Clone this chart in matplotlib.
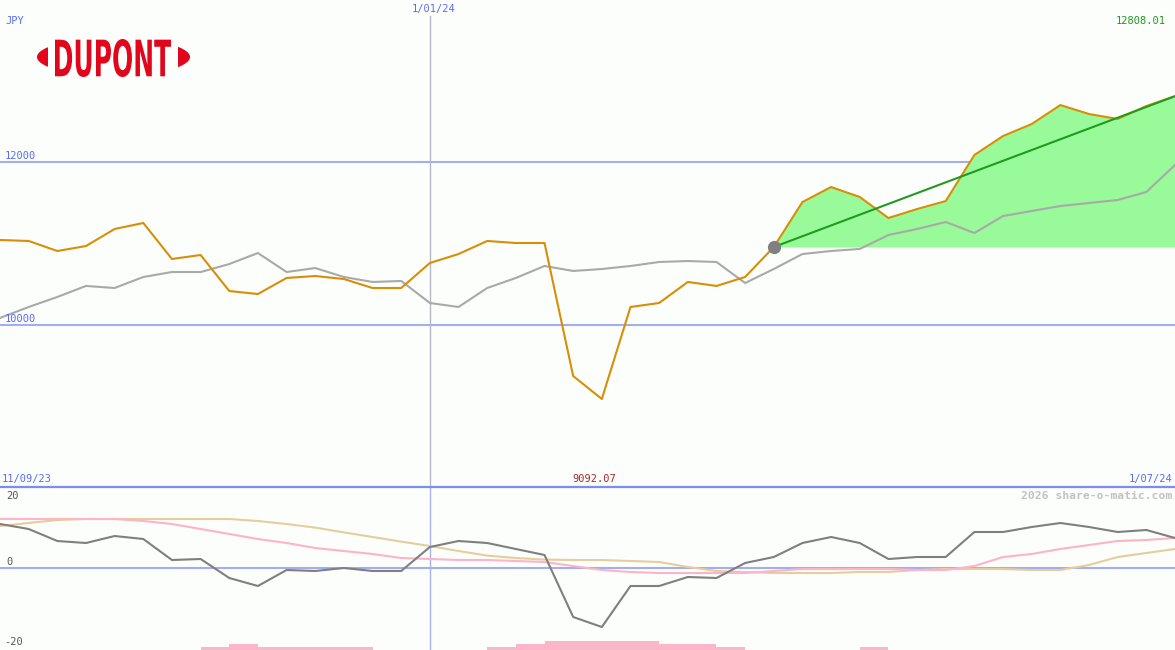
import matplotlib
matplotlib.use('Agg')
import matplotlib.pyplot as plt
from matplotlib.patches import Ellipse, Rectangle, PathPatch
from matplotlib.textpath import TextPath
from matplotlib.font_manager import FontProperties
from matplotlib.transforms import Affine2D
import numpy as np

# weekly closes, 11/09/23 .. 1/07/24 (JPY)
price = [11043, 11031, 10908, 10969, 11178, 11252, 10810, 10859, 10417, 10380,
         10577, 10601, 10564, 10454, 10454, 10761, 10871, 11031, 11006, 11006,
         9374, 9092.07, 10221, 10270, 10528, 10479, 10589, 10957, 11509, 11693,
         11571, 11313, 11423, 11521, 12086, 12319, 12466, 12699, 12589, 12528,
         12687, 12808.01]
# comparison line (grey)
bench = [10086, 10221, 10344, 10479, 10454, 10589, 10650, 10650, 10748, 10883,
         10650, 10699, 10589, 10528, 10540, 10270, 10221, 10454, 10577, 10724,
         10663, 10687, 10724, 10773, 10785, 10773, 10515, 10687, 10871, 10908,
         10933, 11104, 11178, 11264, 11129, 11337, 11399, 11460, 11497, 11534,
         11632, 11963]
# lower panel indicators
mom = [11, 9.75, 6.75, 6.25, 8, 7.25, 2, 2.25, -2.5, -4.5, -0.5, -0.75, 0, -0.75,
       -0.75, 5.25, 6.75, 6.25, 4.75, 3.25, -12.25, -14.75, -4.5, -4.5, -2.25,
       -2.5, 1.25, 2.75, 6.25, 7.75, 6.25, 2.25, 2.75, 2.75, 9, 9, 10.25, 11.25,
       10.25, 9, 9.5, 7.5]
slow = [10.5, 11.25, 12, 12.25, 12.25, 12.25, 12.25, 12.25, 12.25, 11.75, 11,
        10.1, 8.9, 7.75, 6.6, 5.5, 4.25, 3.1, 2.5, 2.1, 2, 2, 1.75, 1.5, 0.25,
        -0.75, -1, -1.25, -1.25, -1.25, -1, -1, -0.5, -0.25, -0.25, -0.25, -0.5,
        -0.5, 0.75, 2.75, 3.75, 4.75]
fast = [12.25, 12.25, 12.25, 12.25, 12.25, 11.75, 11, 9.75, 8.5, 7.25, 6.25, 5,
        4.25, 3.5, 2.5, 2.25, 2, 2, 1.75, 1.5, 0.5, -0.5, -1, -1.25, -1.25, -1.25,
        -1.25, -0.75, -0.25, -0.25, -0.25, -0.25, -0.5, -0.5, 0.5, 2.75, 3.5,
        4.75, 5.75, 6.75, 7, 7.5]
vol = [0, 0, 0, 0, 0, 0, 0, 1, 2, 1, 1, 1, 1, 0, 0, 0, 0, 1, 2, 3, 3, 3, 3, 2, 2,
       1, 0, 0, 0, 0, 1, 0, 0, 0, 0, 0, 0, 0, 0, 0, 0, 0]
start_idx = 27      # where the green fill / trend starts
year_idx = 15       # 1/01/24 marker
gridlines = [10000, 12000]

BG = '#fcfefc'
BLUE = '#5b6cf2'
GRID = '#a3adf2'
MONO = 'DejaVu Sans Mono'

x = np.arange(len(price))
W, H = 1175, 650
fig = plt.figure(figsize=(W / 100, H / 100), dpi=100, facecolor=BG)

# ---- upper panel ----
ax = fig.add_axes([0, 163 / H, 1, 487 / H], facecolor=BG)
ax.set_xlim(0, len(price) - 1)
ax.set_ylim(8012, 13988)
for g in gridlines:
    ax.axhline(g, color=GRID, lw=1.5, zorder=1)
ax.axvline(year_idx, ymax=1 - 16 / 487, color='#b6b7c4', lw=1, zorder=1)

xs = x[start_idx:]
ps = np.array(price[start_idx:])
base = price[start_idx]
ax.fill_between(xs, base, ps, where=ps >= base, color='#98fa98', lw=0, zorder=2)
ax.plot(x, bench, color='#a9a9a9', lw=1.5, zorder=3)
ax.plot(x, price, color='#d88e06', lw=1.5, zorder=4)
ax.plot([xs[0], xs[-1]], [price[start_idx], price[-1]], color='#229a22', lw=1.5, zorder=5)
ax.plot([start_idx], [price[start_idx]], 'o', color='#808080', ms=8.5, zorder=6)
for s in ax.spines.values():
    s.set_visible(False)
ax.set_xticks([])
ax.set_yticks([])

# ---- lower panel ----
ax2 = fig.add_axes([0, 0, 1, 163 / H], facecolor=BG)
ax2.set_xlim(0, len(price) - 1)
ax2.set_ylim(-20.5, 20.25)
ax2.axhline(0, color=GRID, lw=1.5, zorder=1)
ax2.axvline(year_idx, color='#aab2f2', lw=1, zorder=1)
ax2.bar(x, np.array(vol) * 0.75, width=1, align='edge', bottom=-20.5,
        color='#fbb6ca', lw=0, zorder=2)
ax2.plot(x, slow, color='#e6cd9d', lw=1.5, zorder=3)
ax2.plot(x, fast, color='#fdb4c8', lw=1.5, zorder=3)
ax2.plot(x, mom, color='#7f7f7f', lw=1.5, zorder=4)
for s in ax2.spines.values():
    s.set_visible(False)
ax2.spines['top'].set_visible(True)
ax2.spines['top'].set_color('#7d8cf0')
ax2.spines['top'].set_linewidth(1.6)
ax2.set_xticks([])
ax2.set_yticks([])

# ---- overlay for labels (pixel coords) ----
ov = fig.add_axes([0, 0, 1, 1], zorder=10)
ov.set_xlim(0, W)
ov.set_ylim(H, 0)
ov.axis('off')
ov.patch.set_alpha(0)

def lab(px, py, s, color=BLUE, ha='left', size=7.5, weight='normal'):
    ov.text(px, py, s, ha=ha, va='center', color=color, fontsize=size,
            family=MONO, fontweight=weight)

lab(5, 21, 'JPY')
lab(434, 9, '1/01/24', ha='center')
lab(1166, 21, '12808.01', color='#1f9a1f', ha='right')
lab(5, 156, '12000')
lab(5, 319, '10000')
lab(2, 479, '11/09/23')
lab(594, 479, '9092.07', color='#a52a2a', ha='center')
lab(1172, 479, '1/07/24', ha='right')
lab(1172, 496, '2026 share-o-matic.com', color='#c2c2c2', ha='right', size=8.2, weight='bold')
lab(6, 496, '20', color='#555555')
lab(6, 562, '0', color='#555555')
lab(4, 642, '-20', color='#555555')

# logo
RED = '#e1061c'
for cx, cw in [(37, 11), (178, 13)]:
    e = Ellipse((113.5, 57), 153, 38, color=RED, lw=0)
    ov.add_patch(e)
    e.set_clip_path(Rectangle((cx, 30), cw, 60, transform=ov.transData))
tp = TextPath((0, 0), 'DUPONT', size=1, prop=FontProperties(family='DejaVu Sans', weight='bold'))
ext = tp.get_extents()
sx = (171 - 55) / ext.width
sy = (77 - 39) / ext.height
tr = Affine2D().translate(-ext.x0, -ext.y0).scale(sx, -sy).translate(55, 77)
ov.add_patch(PathPatch(tr.transform_path(tp), color=RED, lw=0))

fig.savefig('out.png', dpi=100, facecolor=BG)
